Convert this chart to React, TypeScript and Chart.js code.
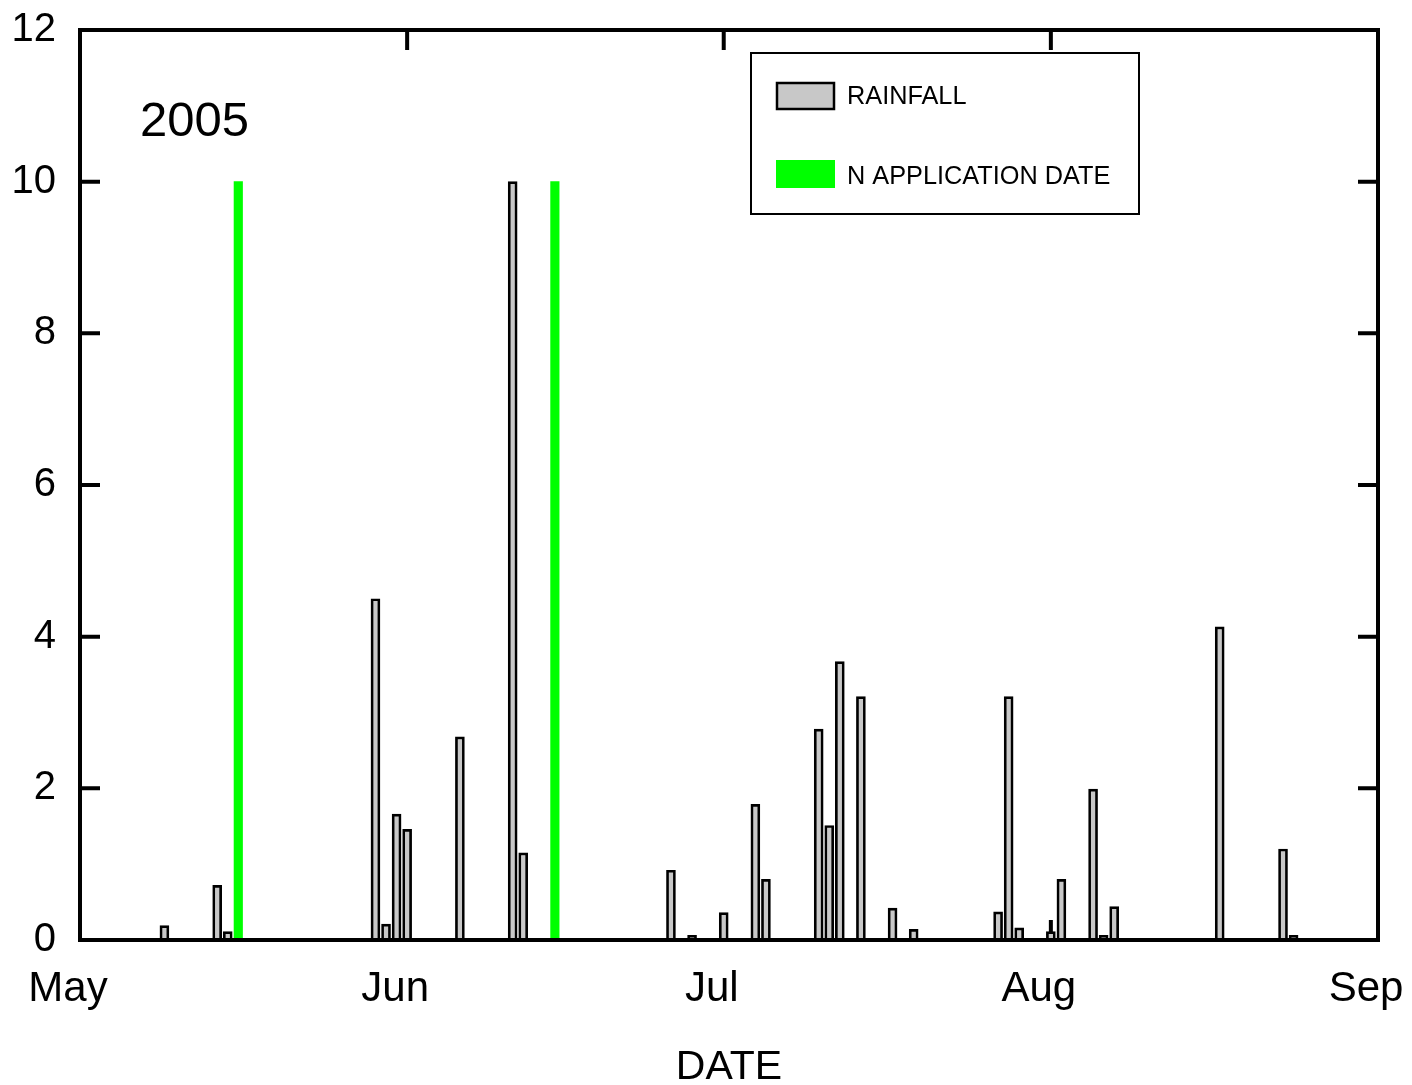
import React, { useEffect, useRef } from 'react';
import { Chart, registerables } from 'chart.js';

Chart.register(...registerables);

const YEAR_LABEL = '2005';
const X_TITLE = 'DATE';

const rainDates = [
  '2005-05-09', '2005-05-14', '2005-05-15', '2005-05-29', '2005-05-30', '2005-05-31',
  '2005-06-01', '2005-06-06', '2005-06-11', '2005-06-12', '2005-06-26', '2005-06-28',
  '2005-07-01', '2005-07-04', '2005-07-05', '2005-07-10', '2005-07-11', '2005-07-12',
  '2005-07-14', '2005-07-17', '2005-07-19', '2005-07-27', '2005-07-28', '2005-07-29',
  '2005-08-01', '2005-08-02', '2005-08-05', '2005-08-06', '2005-08-07', '2005-08-17',
  '2005-08-23', '2005-08-24',
];
const rainValues = [
  0.19, 0.72, 0.11, 4.5, 0.21, 1.66,
  1.46, 2.68, 10.0, 1.15, 0.92, 0.06,
  0.36, 1.79, 0.8, 2.78, 1.51, 3.67,
  3.21, 0.42, 0.14, 0.37, 3.21, 0.16,
  0.11, 0.8, 1.99, 0.06, 0.44, 4.13,
  1.2, 0.06,
];

const nAppDates = ['2005-05-16', '2005-06-15'];
const nAppValues = [10, 10];

const monthStarts = ['2005-05-01', '2005-06-01', '2005-07-01', '2005-08-01', '2005-09-01'];
const monthLabels = ['May', 'Jun', 'Jul', 'Aug', 'Sep'];
const yTickValues = [0, 2, 4, 6, 8, 10, 12];
const seriesLabels = ['RAINFALL', 'N APPLICATION DATE'];

const RAIN_FILL = '#c8c8c8';
const N_FILL = '#00ff00';
const FONT = "'Liberation Sans', Arial, Helvetica, sans-serif";

const dayOf = (iso: string) =>
  (Date.parse(iso + 'T00:00:00Z') - Date.parse(monthStarts[0] + 'T00:00:00Z')) / 86400000;

const framePlugin = {
  id: 'frameAndLegend',
  beforeDatasetsDraw(chart: any) {
    const { ctx, chartArea: a, scales } = chart;
    const x = scales.x;
    const y = scales.y;
    const tl = 20;
    ctx.save();
    ctx.strokeStyle = '#000';
    ctx.lineWidth = 4;
    ctx.lineCap = 'butt';
    ctx.beginPath();
    for (const v of yTickValues.slice(1, -1)) {
      const py = y.getPixelForValue(v);
      ctx.moveTo(a.left, py);
      ctx.lineTo(a.left + tl, py);
      ctx.moveTo(a.right, py);
      ctx.lineTo(a.right - tl, py);
    }
    for (const d of monthStarts.slice(1, -1)) {
      const px = x.getPixelForValue(dayOf(d));
      ctx.moveTo(px, a.top);
      ctx.lineTo(px, a.top + tl);
      ctx.moveTo(px, a.bottom);
      ctx.lineTo(px, a.bottom - tl);
    }
    ctx.stroke();
    ctx.restore();
  },
  afterDatasetsDraw(chart: any) {
    const { ctx, chartArea: a } = chart;
    ctx.save();
    ctx.strokeStyle = '#000';
    ctx.lineWidth = 4;
    ctx.strokeRect(a.left, a.top, a.right - a.left, a.bottom - a.top);
    ctx.restore();
  },
  afterDraw(chart: any) {
    const { ctx, chartArea: a } = chart;
    ctx.save();
    // year label
    ctx.fillStyle = '#000';
    ctx.font = `49px ${FONT}`;
    ctx.textAlign = 'left';
    ctx.textBaseline = 'alphabetic';
    ctx.fillText(YEAR_LABEL, a.left + 60, a.top + 106);

    // legend box
    const bx = a.left + 671;
    const by = a.top + 23;
    const bw = 388;
    const bh = 161;
    ctx.fillStyle = '#fff';
    ctx.fillRect(bx, by, bw, bh);
    ctx.strokeStyle = '#000';
    ctx.lineWidth = 2;
    ctx.strokeRect(bx, by, bw, bh);

    const ds = chart.data.datasets;
    // rainfall swatch
    ctx.fillStyle = ds[0].backgroundColor;
    ctx.fillRect(bx + 26, by + 30, 57, 26);
    ctx.strokeStyle = '#000';
    ctx.lineWidth = 2.5;
    ctx.strokeRect(bx + 26, by + 30, 57, 26);
    // N swatch
    ctx.fillStyle = ds[1].backgroundColor;
    ctx.fillRect(bx + 25, by + 107, 59, 28);

    ctx.fillStyle = '#000';
    ctx.font = `25.3px ${FONT}`;
    ctx.textBaseline = 'alphabetic';
    ctx.fillText(ds[0].label, bx + 96, by + 51);
    ctx.fillText(ds[1].label, bx + 96, by + 131);
    ctx.restore();
  },
};

export default function App() {
  const ref = useRef<HTMLCanvasElement>(null);

  useEffect(() => {
    const canvas = ref.current;
    if (!canvas) return;
    const monthDays = monthStarts.map(dayOf);

    const chart = new Chart(canvas, {
      type: 'bar',
      data: {
        datasets: [
          {
            label: seriesLabels[0],
            data: rainDates.map((d, i) => ({ x: dayOf(d), y: rainValues[i] })),
            backgroundColor: RAIN_FILL,
            borderColor: '#000',
            borderWidth: 2.7,
            barThickness: 9,
            grouped: false,
            order: 2,
          } as any,
          {
            label: seriesLabels[1],
            data: nAppDates.map((d, i) => ({ x: dayOf(d), y: nAppValues[i] })),
            backgroundColor: N_FILL,
            borderWidth: 0,
            barThickness: 8.5,
            grouped: false,
            order: 1,
          } as any,
        ],
      },
      options: {
        responsive: false,
        animation: false,
        maintainAspectRatio: false,
        layout: { padding: { top: 30, right: 34, left: 0, bottom: 0 } },
        plugins: {
          legend: { display: false },
          tooltip: { enabled: false },
          title: { display: false },
        },
        scales: {
          x: {
            type: 'linear',
            position: 'bottom',
            min: monthDays[0],
            max: monthDays[monthDays.length - 1],
            offset: false,
            grid: { display: false, drawTicks: false },
            border: { display: false },
            afterBuildTicks: (scale: any) => {
              scale.ticks = monthDays.map((v) => ({ value: v }));
            },
            afterFit: (scale: any) => {
              scale.height = 145;
              scale.paddingLeft = 0;
              scale.paddingRight = 0;
            },
            ticks: {
              autoSkip: false,
              maxRotation: 0,
              minRotation: 0,
              padding: 28,
              labelOffset: -12,
              color: '#000',
              font: { family: FONT, size: 42, lineHeight: 1 },
              callback: (value: any) => {
                const idx = monthDays.indexOf(Number(value));
                return idx >= 0 ? monthLabels[idx] : '';
              },
            },
            title: {
              display: true,
              text: X_TITLE,
              color: '#000',
              font: { family: FONT, size: 41, lineHeight: 1 },
              padding: { top: 0, bottom: -3 },
            },
          } as any,
          y: {
            type: 'linear',
            position: 'left',
            min: 0,
            max: 12,
            grid: { display: false, drawTicks: false },
            border: { display: false },
            afterBuildTicks: (scale: any) => {
              scale.ticks = yTickValues.map((v) => ({ value: v }));
            },
            afterFit: (scale: any) => {
              scale.width = 80;
              scale.paddingTop = 0;
              scale.paddingBottom = 0;
            },
            ticks: {
              padding: 24,
              color: '#000',
              font: { family: FONT, size: 40, lineHeight: 1.2 },
              callback: (value: any) => String(value),
            },
          } as any,
        },
      },
      plugins: [framePlugin],
    });

    return () => chart.destroy();
  }, []);

  return (
    <div style={{ position: 'absolute', left: 0, top: 0, width: 1412, height: 1085, background: '#fff' }}>
      <canvas ref={ref} width={1412} height={1085} style={{ display: 'block', width: 1412, height: 1085 }} />
    </div>
  );
}
